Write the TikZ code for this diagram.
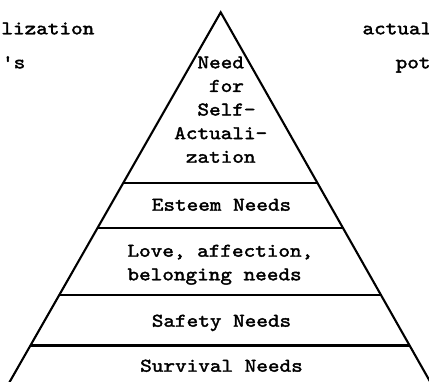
\documentclass[tikz,border=0pt]{standalone}
\usepackage{fontspec}
\newfontfamily\tw[Extension=.otf,FakeStretch=1.14,FakeBold=2]{lmmono10-regular}
\usetikzlibrary{calc}
\tikzset{
  edge/.style={line width=2.1bp, line join=miter},
  tier/.style={line width=2.2bp},
  lbl/.style={inner sep=0pt, font=\tw\fontsize{19.4bp}{23.6bp}\selectfont},
}
\begin{document}
\begin{tikzpicture}[x=1bp, y={(0bp,-1bp)}]
\useasboundingbox (0,0) rectangle (429,382);
\clip (0,0) rectangle (429,382);
% pyramid
\coordinate (A) at (220.7,12.3);
\coordinate (BL) at (-0.7,400);
\coordinate (BR) at (440.5,400);
\draw[edge] (BL) -- (A) -- (BR);
% tier separators
\foreach \t/\n in {0.4403/1, 0.5564/2, 0.7292/3, 0.8594/4}{
  \coordinate (l\n) at ($(A)!\t!(BL)$);
  \coordinate (r\n) at ($(A)!\t!(BR)$);
  \draw[tier] (l\n) -- (r\n);
}
% top tier label
\node[lbl, anchor=base west] (sa1) at (197.3,68.3) {Need};
\node[lbl, anchor=base west] (sa2) at (208.9,91.9) {for};
\node[lbl, anchor=base west] (sa3) at (197.3,115.5) {Self-};
\node[lbl, anchor=base west] (sa4) at (174.1,139.1) {Actuali-};
\node[lbl, anchor=base west] (sa5) at (185.7,162.7) {zation};
% other tiers
\node[lbl, anchor=base] (est) at (221.5,210.7) {Esteem Needs};
\node[lbl, anchor=base west] (lov1) at (127.3,256.7) {Love, affection,};
\node[lbl, anchor=base west] (lov2) at (127.3,280.3) {belonging needs};
\node[lbl, anchor=base] (saf) at (221.5,326.7) {Safety Needs};
\node[lbl, anchor=base] (sur) at (221.5,371.7) {Survival Needs};
% cropped side text
\node[lbl, anchor=base east] (sl1) at (94.5,34.3) {lization};
\node[lbl, anchor=base east] (sl2) at (25.5,68.3) {'s};
\node[lbl, anchor=base west] (sr1) at (362.3,34.3) {actual};
\node[lbl, anchor=base west] (sr2) at (395.5,68.3) {pot};
\end{tikzpicture}
\end{document}
